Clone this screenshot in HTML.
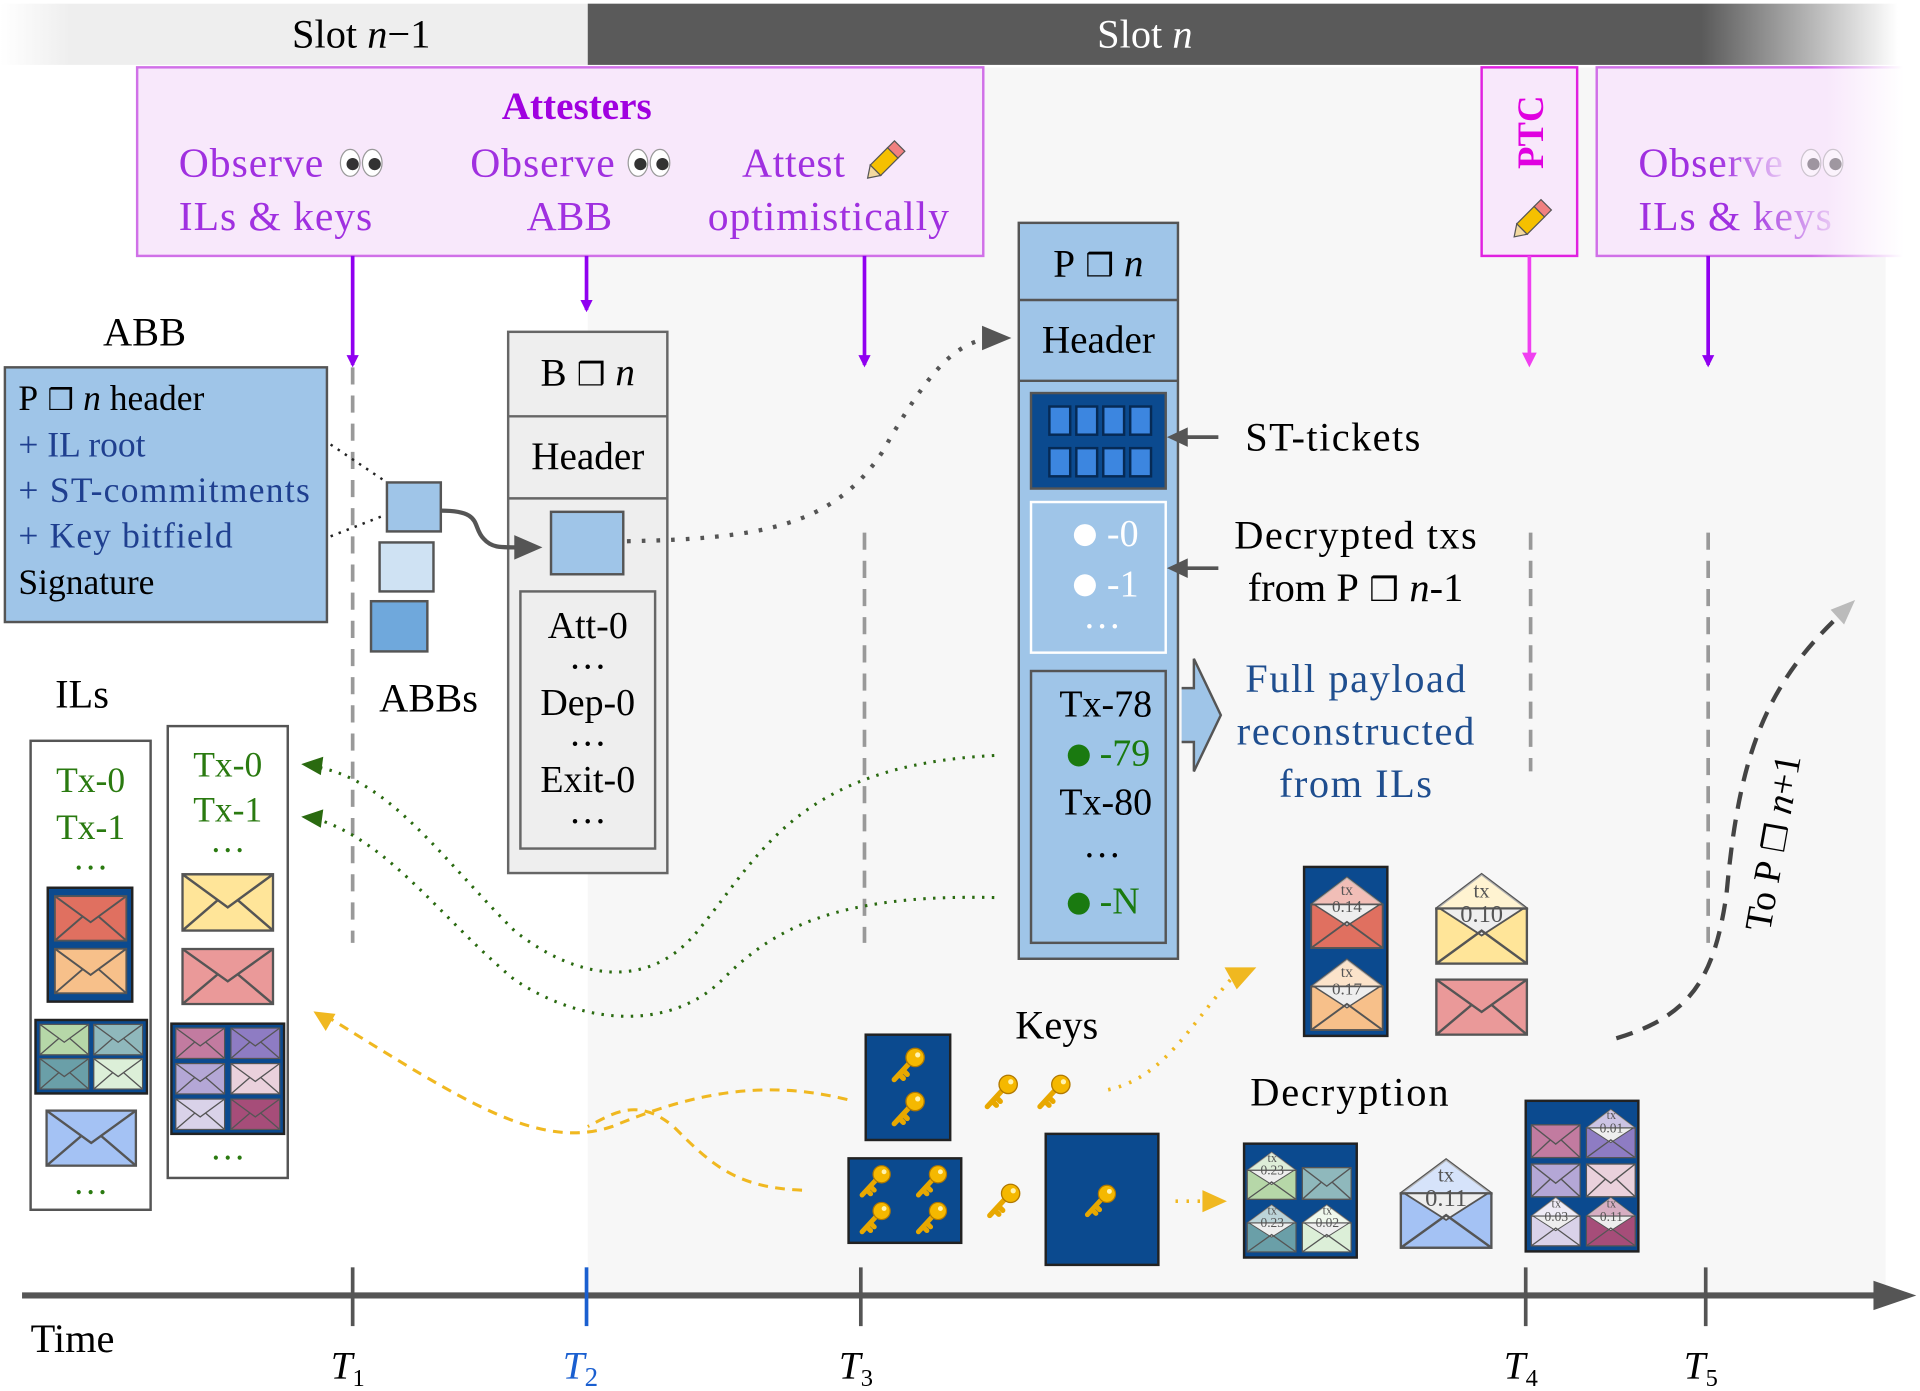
<!DOCTYPE html>
<html><head><meta charset="utf-8"><style>html,body{margin:0;padding:0;background:#fff}svg{display:block}text{font-family:"Liberation Serif",serif}</style></head>
<body>
<svg width="1920" height="1391" viewBox="0 0 1568 1136" preserveAspectRatio="none" xmlns="http://www.w3.org/2000/svg">
<defs>
<linearGradient id="gl" x1="0" x2="1"><stop offset="0" stop-color="#fff"/><stop offset="0.12" stop-color="#eee"/><stop offset="1" stop-color="#eee"/></linearGradient>
<linearGradient id="gd" x1="0" x2="1"><stop offset="0" stop-color="#5a5a5a"/><stop offset="0.85" stop-color="#5a5a5a"/><stop offset="1" stop-color="#fff"/></linearGradient>
<linearGradient id="gp" x1="0" x2="1"><stop offset="0" stop-color="#f8e8fb"/><stop offset="0.75" stop-color="#f8e8fb"/><stop offset="1" stop-color="#fff"/></linearGradient>
<linearGradient id="gps" x1="0" x2="1"><stop offset="0" stop-color="#d070e8"/><stop offset="0.7" stop-color="#d070e8"/><stop offset="1" stop-color="#fff"/></linearGradient>
<linearGradient id="gt" x1="0" x2="1"><stop offset="0" stop-color="#a030e0"/><stop offset="0.55" stop-color="#a030e0"/><stop offset="1" stop-color="#e8c8f4"/></linearGradient>
<symbol id="env" viewBox="0 0 76 48" preserveAspectRatio="none"><rect x="1" y="1" width="74" height="46" stroke="#555" stroke-width="2"/><path d="M1 1 L38 28 L75 1 M1 47 L30 22 M75 47 L46 22" fill="none" stroke="#555" stroke-width="2"/></symbol>
<symbol id="oenv" viewBox="0 0 76 76" preserveAspectRatio="none"><polygon points="1,30 38,2 75,30" stroke="#555" stroke-width="2"/><polygon points="1,30 38,2 75,30" fill="#fff" opacity="0.55"/><rect x="1" y="30" width="74" height="45" stroke="#555" stroke-width="2"/><polygon points="4,30 72,30 38,52" fill="#eee" stroke="#555" stroke-width="1.5"/><path d="M1 75 L38 48 L75 75" fill="none" stroke="#555" stroke-width="2"/></symbol>
<symbol id="key" viewBox="0 0 30 30"><path d="M16 13 L4 26 M8 22 L11 25 M11 19 L14 22" stroke="#e8a800" stroke-width="4" fill="none" stroke-linecap="round"/><circle cx="20" cy="9" r="7" fill="#f5b800" stroke="#b07800" stroke-width="1"/><circle cx="22" cy="7" r="2" fill="#fff3b0"/></symbol>
<symbol id="pen" viewBox="0 0 40 40"><g transform="rotate(45 20 20)"><rect x="14" y="2" width="12" height="8" fill="#f08080" stroke="#555"/><rect x="14" y="10" width="12" height="20" fill="#f5c000" stroke="#555"/><polygon points="14,30 26,30 20,39" fill="#f3d9a0" stroke="#555"/></g></symbol>
<symbol id="eyes" viewBox="0 0 36 26"><ellipse cx="9" cy="13" rx="8" ry="11" fill="#fff" stroke="#999"/><ellipse cx="27" cy="13" rx="8" ry="11" fill="#fff" stroke="#999"/><circle cx="11" cy="14" r="5" fill="#333"/><circle cx="29" cy="14" r="5" fill="#333"/></symbol>
<marker id="ap" markerWidth="10" markerHeight="10" refX="8" refY="5" orient="auto" markerUnits="userSpaceOnUse"><path d="M0 0 L10 5 L0 10 Z" fill="#9000f0"/></marker>
</defs>

<rect x="480" y="55" width="1060" height="1005" fill="#f7f7f7"/>
<rect x="0" y="3" width="480" height="50" fill="url(#gl)"/>
<rect x="480" y="3" width="1070" height="50" fill="url(#gd)"/>
<text x="295" y="39" font-size="33" text-anchor="middle">Slot <tspan font-style="italic">n</tspan>−1</text>
<text x="935" y="39" font-size="33" text-anchor="middle" fill="#fff">Slot <tspan font-style="italic">n</tspan></text>

<rect x="112" y="55" width="691" height="154" fill="#f8e8fb" stroke="#d070e8" stroke-width="2"/>
<rect x="1210" y="55" width="78" height="154" fill="#f8e8fb" stroke="#e020e0" stroke-width="2"/>
<rect x="1304" y="55" width="250" height="154" fill="url(#gp)" stroke="url(#gps)" stroke-width="2"/>
<text x="471" y="97" font-size="32" font-weight="bold" fill="#a000e0" text-anchor="middle">Attesters</text>
<g font-size="34" fill="#a030e0">
<text x="146" y="144" textLength="118">Observe</text><text x="146" y="188" textLength="158">ILs &amp; keys</text>
<text x="384" y="144" textLength="118">Observe</text><text x="465" y="188" text-anchor="middle">ABB</text>
<text x="606" y="144" textLength="84">Attest</text><text x="578" y="188" textLength="197">optimistically</text>
</g>
<g font-size="34" fill="url(#gt)">
<text x="1338" y="144" textLength="118">Observe</text><text x="1338" y="188" textLength="158">ILs &amp; keys</text>
</g>
<use href="#eyes" x="277" y="120" width="36" height="26"/>
<use href="#eyes" x="512" y="120" width="36" height="26"/>
<use href="#pen" x="702" y="112" width="40" height="40"/>
<text transform="translate(1260 108) rotate(-90)" font-size="30" font-weight="bold" fill="#e000e0" text-anchor="middle">PTC</text>
<use href="#pen" x="1230" y="160" width="40" height="40"/>
<use href="#eyes" x="1470" y="120" width="36" height="26" opacity="0.45"/>

<g stroke="#9000f0" stroke-width="3" marker-end="url(#ap)">
<line x1="288" y1="209" x2="288" y2="298"/><line x1="479" y1="209" x2="479" y2="253"/><line x1="706" y1="209" x2="706" y2="298"/><line x1="1395" y1="209" x2="1395" y2="298"/>
</g>
<line x1="1249" y1="209" x2="1249" y2="290" stroke="#f040f0" stroke-width="3"/><path d="M1243 288 L1249 300 L1255 288 Z" fill="#f040f0"/>

<g stroke="#999" stroke-width="3" stroke-dasharray="14 9">
<line x1="288" y1="300" x2="288" y2="770"/><line x1="706" y1="435" x2="706" y2="770"/><line x1="1250" y1="435" x2="1250" y2="630"/><line x1="1395" y1="435" x2="1395" y2="770"/>
</g>

<line x1="18" y1="1058" x2="1535" y2="1058" stroke="#555" stroke-width="5"/>
<path d="M1530 1046 L1565 1058 L1530 1070 Z" fill="#555"/>
<g stroke="#555" stroke-width="3"><line x1="288" y1="1035" x2="288" y2="1083"/><line x1="703" y1="1035" x2="703" y2="1083"/><line x1="1246" y1="1035" x2="1246" y2="1083"/><line x1="1393" y1="1035" x2="1393" y2="1083"/></g>
<line x1="479" y1="1035" x2="479" y2="1083" stroke="#1a5fd0" stroke-width="3"/>
<text x="25" y="1104" font-size="33">Time</text>
<g font-size="32" font-style="italic" text-anchor="middle">
<text x="284" y="1126">T<tspan font-size="20" font-style="normal" dy="6">1</tspan></text>
<text x="474" y="1126" fill="#1a5fd0">T<tspan font-size="22" font-style="normal" dy="6" fill="#1a5fd0">2</tspan></text>
<text x="699" y="1126">T<tspan font-size="20" font-style="normal" dy="6">3</tspan></text>
<text x="1242" y="1126">T<tspan font-size="20" font-style="normal" dy="6">4</tspan></text>
<text x="1389" y="1126">T<tspan font-size="20" font-style="normal" dy="6">5</tspan></text>
</g>

<text x="118" y="282" font-size="33" text-anchor="middle">ABB</text>
<rect x="4" y="300" width="263" height="208" fill="#9fc5e8" stroke="#555" stroke-width="2"/>
<g font-size="29">
<text x="15" y="335">P<tspan font-family="DejaVu Sans" font-size="24"> ❒ </tspan><tspan font-style="italic">n</tspan> header</text>
<text x="15" y="373" fill="#1f3f8f">+ IL root</text>
<text x="15" y="410" fill="#1f3f8f" textLength="238">+ ST-commitments</text>
<text x="15" y="447" fill="#1f3f8f" textLength="175">+ Key bitfield</text>
<text x="15" y="485">Signature</text>
</g>
<path d="M270 363 L316 394 M270 438 L316 420" stroke="#222" stroke-width="2" stroke-dasharray="2 5" fill="none"/>
<rect x="316" y="394" width="44" height="40" fill="#9fc5e8" stroke="#555" stroke-width="2"/>
<rect x="310" y="443" width="44" height="40" fill="#cfe2f3" stroke="#555" stroke-width="2"/>
<rect x="303" y="491" width="46" height="41" fill="#6fa8dc" stroke="#555" stroke-width="2"/>
<text x="350" y="581" font-size="33" text-anchor="middle">ABBs</text>

<rect x="415" y="271" width="130" height="442" fill="#eee" stroke="#666" stroke-width="2"/>
<line x1="415" y1="340" x2="545" y2="340" stroke="#666" stroke-width="2"/><line x1="415" y1="407" x2="545" y2="407" stroke="#666" stroke-width="2"/>
<text x="480" y="315" font-size="32" text-anchor="middle">B<tspan font-family="DejaVu Sans" font-size="26"> ❒ </tspan><tspan font-style="italic">n</tspan></text>
<text x="480" y="383" font-size="32" text-anchor="middle">Header</text>
<rect x="450" y="418" width="59" height="51" fill="#9fc5e8" stroke="#555" stroke-width="2"/>
<rect x="425" y="483" width="110" height="210" fill="#eee" stroke="#666" stroke-width="2"/>
<g font-size="31" text-anchor="middle"><text x="480" y="521">Att-0</text><text x="480" y="546">…</text><text x="480" y="584">Dep-0</text><text x="480" y="609">…</text><text x="480" y="647">Exit-0</text><text x="480" y="672">…</text></g>
<path d="M360 417 C395 417 385 430 395 440 C402 448 410 447 425 447" stroke="#555" stroke-width="3.5" fill="none"/>
<path d="M420 437 L443 447 L420 457 Z" fill="#555"/>
<path d="M512 442 C620 440 680 430 720 370 C760 300 780 280 810 276" stroke="#555" stroke-width="3.5" stroke-dasharray="3 9" fill="none"/>
<path d="M802 266 L826 276 L802 286 Z" fill="#555"/>

<rect x="832" y="182" width="130" height="601" fill="#9fc5e8" stroke="#555" stroke-width="2"/>
<line x1="832" y1="245" x2="962" y2="245" stroke="#555" stroke-width="2"/><line x1="832" y1="311" x2="962" y2="311" stroke="#555" stroke-width="2"/>
<text x="897" y="226" font-size="32" text-anchor="middle">P<tspan font-family="DejaVu Sans" font-size="26"> ❒ </tspan><tspan font-style="italic">n</tspan></text>
<text x="897" y="288" font-size="32" text-anchor="middle">Header</text>
<rect x="842" y="321" width="110" height="78" fill="#0b4a8f" stroke="#555" stroke-width="2"/>
<g fill="#3c86e0" stroke="#062a55" stroke-width="2">
<rect x="857" y="332" width="17" height="23"/><rect x="879" y="332" width="17" height="23"/><rect x="901" y="332" width="17" height="23"/><rect x="923" y="332" width="17" height="23"/>
<rect x="857" y="366" width="17" height="23"/><rect x="879" y="366" width="17" height="23"/><rect x="901" y="366" width="17" height="23"/><rect x="923" y="366" width="17" height="23"/>
</g>
<rect x="842" y="410" width="110" height="123" fill="#9fc5e8" stroke="#fff" stroke-width="2"/>
<g font-size="31" fill="#fff"><circle cx="886" cy="437" r="9" fill="#fff"/><text x="904" y="446">-0</text><circle cx="886" cy="478" r="9" fill="#fff"/><text x="904" y="487">-1</text><text x="900" y="513" text-anchor="middle">…</text></g>
<rect x="842" y="548" width="110" height="222" fill="#9fc5e8" stroke="#555" stroke-width="2"/>
<g font-size="31" text-anchor="middle"><text x="903" y="585">Tx-78</text><text x="903" y="665">Tx-80</text><text x="900" y="700">…</text></g>
<circle cx="881" cy="617" r="9" fill="#1a7a10"/><text x="898" y="625" font-size="31" fill="#1a7a10">-79</text>
<circle cx="881" cy="738" r="9" fill="#1a7a10"/><text x="898" y="746" font-size="31" fill="#1a7a10">-N</text>
<path d="M965 562 L975 562 L975 538 L997 584 L975 630 L975 606 L965 606" fill="#9fc5e8" stroke="#555" stroke-width="2"/>
<g stroke="#555" stroke-width="3"><line x1="995" y1="357" x2="968" y2="357"/><line x1="995" y1="464" x2="968" y2="464"/></g>
<path d="M970 349 L953 357 L970 365 Z M970 456 L953 464 L970 472 Z" fill="#555"/>
<text x="1017" y="368" font-size="33" textLength="143">ST-tickets</text>
<text x="1107" y="448" font-size="33" text-anchor="middle" textLength="198">Decrypted txs</text>
<text x="1107" y="491" font-size="33" text-anchor="middle">from P<tspan font-family="DejaVu Sans" font-size="27"> ❒ </tspan><tspan font-style="italic">n</tspan>-1</text>
<g font-size="33" fill="#1f4e8f" text-anchor="middle"><text x="1107" y="565" textLength="180">Full payload</text><text x="1107" y="608" textLength="194">reconstructed</text><text x="1107" y="651" textLength="125">from ILs</text></g>

<text x="67" y="578" font-size="33" text-anchor="middle">ILs</text>
<rect x="25" y="605" width="98" height="383" fill="#fff" stroke="#555" stroke-width="2"/>
<rect x="137" y="593" width="98" height="369" fill="#fff" stroke="#555" stroke-width="2"/>
<g font-size="29" fill="#2a7a10" text-anchor="middle">
<text x="74" y="647">Tx-0</text><text x="74" y="685">Tx-1</text><text x="74" y="710">…</text><text x="74" y="975">…</text>
<text x="186" y="634">Tx-0</text><text x="186" y="671">Tx-1</text><text x="186" y="696">…</text><text x="186" y="947">…</text>
</g>
<rect x="39" y="725" width="69" height="93" fill="#0b4a8f" stroke="#222" stroke-width="2"/>
<use href="#env" x="44" y="731" width="60" height="38" fill="#e07060"/>
<use href="#env" x="44" y="774" width="60" height="38" fill="#f7c08a"/>
<rect x="29" y="833" width="91" height="60" fill="#0b4a8f" stroke="#222" stroke-width="2"/>
<use href="#env" x="32" y="836" width="41" height="26" fill="#b6d7a8"/><use href="#env" x="76" y="836" width="41" height="26" fill="#8fb8bc"/>
<use href="#env" x="32" y="864" width="41" height="26" fill="#6a9fa8"/><use href="#env" x="76" y="864" width="41" height="26" fill="#dcefd8"/>
<use href="#env" x="37" y="906" width="75" height="47" fill="#a4c2f4"/>
<use href="#env" x="148" y="713" width="76" height="48" fill="#ffe599"/>
<use href="#env" x="148" y="774" width="76" height="47" fill="#ea9999"/>
<rect x="140" y="836" width="92" height="90" fill="#0b4a8f" stroke="#222" stroke-width="2"/>
<use href="#env" x="143" y="839" width="41" height="26" fill="#c27ba0"/><use href="#env" x="188" y="839" width="41" height="26" fill="#8e7cc3"/>
<use href="#env" x="143" y="868" width="41" height="26" fill="#b4a7d6"/><use href="#env" x="188" y="868" width="41" height="26" fill="#ead1dc"/>
<use href="#env" x="143" y="897" width="41" height="26" fill="#d9d2e9"/><use href="#env" x="188" y="897" width="41" height="26" fill="#a64d79"/>

<g stroke="#2a6a10" stroke-width="2.5" stroke-dasharray="2 6" fill="none">
<path d="M812 617 C650 625 620 700 570 760 C530 810 470 800 420 760 C360 700 320 640 262 627"/>
<path d="M812 733 C680 730 630 760 590 800 C550 840 480 840 420 800 C360 750 320 690 262 670"/>
</g>
<path d="M264 618 L246 624 L262 633 Z M264 661 L246 667 L262 676 Z" fill="#2a6a10"/>

<g stroke="#f0b820" stroke-width="2.5" stroke-dasharray="8 6" fill="none">
<path d="M692 898 C620 880 560 895 500 920 C440 940 380 900 270 832"/>
<path d="M655 972 C600 970 580 950 550 920 C520 895 500 910 480 920"/>
</g>
<path d="M256 826 L274 828 L266 842 Z" fill="#f0b820"/>

<text x="863" y="848" font-size="33" text-anchor="middle">Keys</text>
<rect x="707" y="845" width="69" height="86" fill="#0b4a8f" stroke="#222" stroke-width="2"/>
<use href="#key" x="726" y="854" width="32" height="32"/><use href="#key" x="726" y="890" width="32" height="32"/>
<rect x="693" y="946" width="92" height="69" fill="#0b4a8f" stroke="#222" stroke-width="2"/>
<use href="#key" x="700" y="950" width="30" height="30"/><use href="#key" x="746" y="950" width="30" height="30"/>
<use href="#key" x="700" y="980" width="30" height="30"/><use href="#key" x="746" y="980" width="30" height="30"/>
<use href="#key" x="802" y="876" width="32" height="32"/><use href="#key" x="845" y="876" width="32" height="32"/><use href="#key" x="804" y="965" width="32" height="32"/>
<rect x="854" y="926" width="92" height="107" fill="#0b4a8f" stroke="#222" stroke-width="2"/>
<use href="#key" x="884" y="966" width="30" height="30"/>
<path d="M905 890 C950 880 970 840 1005 800" stroke="#f0b820" stroke-width="3" stroke-dasharray="2 7" fill="none"/>
<path d="M1000 790 L1026 790 L1010 808 Z" fill="#f0b820"/>
<path d="M960 981 L985 981" stroke="#f0b820" stroke-width="3" stroke-dasharray="2 7"/>
<path d="M982 972 L1002 981 L982 990 Z" fill="#f0b820"/>

<text x="1102" y="903" font-size="33" text-anchor="middle" textLength="162">Decryption</text>
<rect x="1065" y="708" width="68" height="138" fill="#0b4a8f" stroke="#222" stroke-width="2"/>
<use href="#oenv" x="1070" y="715" width="60" height="60" fill="#e07060"/>
<use href="#oenv" x="1070" y="782" width="60" height="60" fill="#f7c08a"/>
<use href="#oenv" x="1172" y="712" width="76" height="76" fill="#ffe599"/>
<use href="#env" x="1172" y="799" width="76" height="47" fill="#ea9999"/>
<rect x="1016" y="934" width="92" height="93" fill="#0b4a8f" stroke="#222" stroke-width="2"/>
<use href="#oenv" x="1018" y="940" width="41" height="40" fill="#b6d7a8"/><use href="#env" x="1063" y="953" width="41" height="27" fill="#8fb8bc"/>
<use href="#oenv" x="1018" y="983" width="41" height="40" fill="#6a9fa8"/><use href="#oenv" x="1063" y="983" width="41" height="40" fill="#dcefd8"/>
<use href="#oenv" x="1143" y="945" width="76" height="75" fill="#a4c2f4"/>
<rect x="1246" y="899" width="92" height="123" fill="#0b4a8f" stroke="#222" stroke-width="2"/>
<use href="#env" x="1250" y="918" width="41" height="28" fill="#c27ba0"/><use href="#oenv" x="1295" y="905" width="41" height="41" fill="#8e7cc3"/>
<use href="#env" x="1250" y="950" width="41" height="28" fill="#b4a7d6"/><use href="#env" x="1295" y="950" width="41" height="28" fill="#ead1dc"/>
<use href="#oenv" x="1250" y="977" width="41" height="41" fill="#d9d2e9"/><use href="#oenv" x="1295" y="977" width="41" height="41" fill="#a64d79"/>
<g fill="#555" text-anchor="middle">
<text x="1100" y="731" font-size="13">tx</text><text x="1100" y="745" font-size="14">0.14</text>
<text x="1100" y="798" font-size="13">tx</text><text x="1100" y="812" font-size="14">0.17</text>
<text x="1210" y="733" font-size="17">tx</text><text x="1210" y="753" font-size="20">0.10</text>
<text x="1181" y="965" font-size="17">tx</text><text x="1181" y="985" font-size="20">0.11</text>
<text x="1039" y="949" font-size="10">tx</text><text x="1039" y="959" font-size="11">0.23</text>
<text x="1039" y="992" font-size="10">tx</text><text x="1039" y="1002" font-size="11">0.23</text>
<text x="1084" y="992" font-size="10">tx</text><text x="1084" y="1002" font-size="11">0.02</text>
<text x="1316" y="914" font-size="10">tx</text><text x="1316" y="925" font-size="11">0.01</text>
<text x="1271" y="986" font-size="10">tx</text><text x="1271" y="997" font-size="11">0.03</text>
<text x="1316" y="986" font-size="10">tx</text><text x="1316" y="997" font-size="11">0.11</text>
</g>

<path d="M1320 848 C1380 830 1400 800 1410 730 C1420 620 1440 560 1505 500" stroke="#444" stroke-width="3.5" stroke-dasharray="14 9" fill="none"/>
<path d="M1495 498 L1515 490 L1506 510 Z" fill="#bbb"/>
<text transform="translate(1458 690) rotate(-80)" font-size="31" text-anchor="middle">To P<tspan font-family="DejaVu Sans" font-size="26"> ❒ </tspan><tspan font-style="italic">n</tspan>+1</text>
</svg>
</body></html>
